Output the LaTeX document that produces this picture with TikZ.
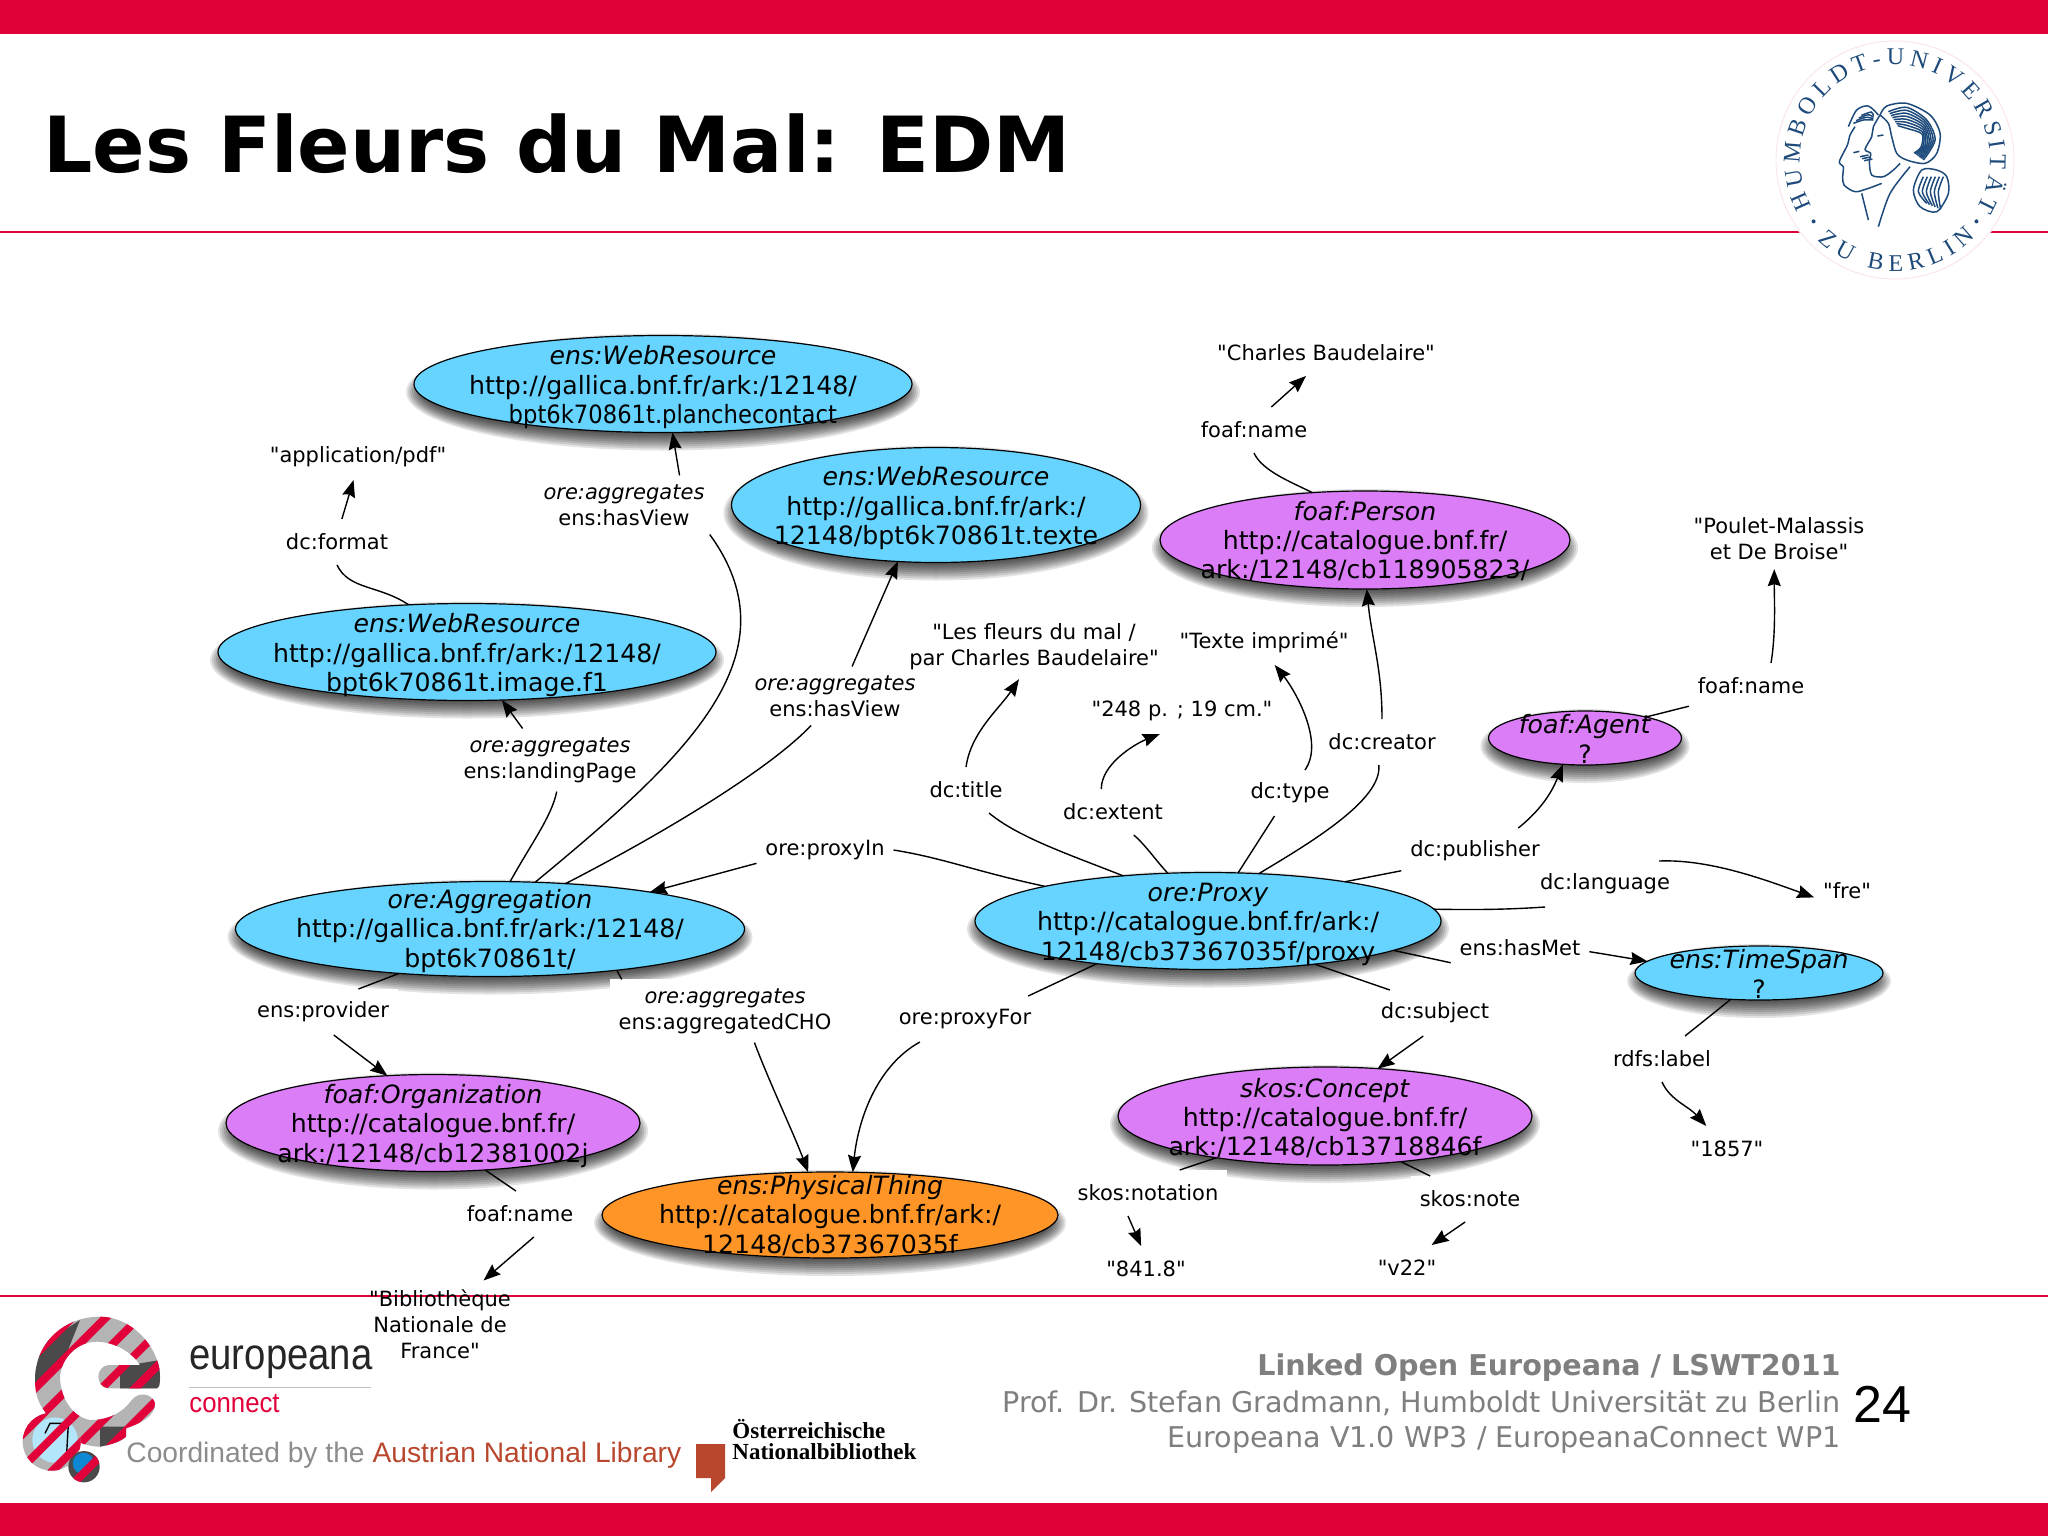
\documentclass[tikz,border=0pt]{standalone}
\usepackage{fontspec}
\usepackage{xcolor}
\usetikzlibrary{arrows.meta, shapes.geometric, decorations.text}
\setmainfont{DejaVu Sans}[Ligatures=TeXOff]
\newfontfamily\arialfont{Liberation Sans}
\newfontfamily\timesfont{Liberation Serif}
\definecolor{Crimson}  {HTML}{E2003B}
\definecolor{ResBlue}  {HTML}{66D4FF}
\definecolor{ResPurple}{HTML}{DA7DF6}
\definecolor{ResOrange}{HTML}{FF9526}
\definecolor{SealBlue} {HTML}{1D4A7A}
\definecolor{FootGrey} {HTML}{7F7F7F}
\definecolor{LogoGrey} {HTML}{B4B4B4}
\definecolor{LogoDark} {HTML}{4A4A4A}
\definecolor{LibRed}   {HTML}{B8472E}
\tikzset{
  resource/.style={ellipse, draw=black, line width=.6pt, inner sep=0pt, outer sep=0pt},
  restext/.style={inner sep=0pt, align=center, font=\fontsize{12.6}{14.7}\selectfont},
  lit/.style={inner sep=4.5pt, outer sep=0pt, minimum height=23pt, align=center,
              font=\fontsize{10.5}{13}\selectfont},
  prop/.style={lit, fill=white},
  link/.style={line width=.7pt},
  arrowlink/.style={link, -{Stealth[length=8.5pt,width=6.5pt,inset=1pt]}},
}
% shadow rings, then the ellipse, then its text on top (#7 lowers the text)
\newcommand{\resnode}[8]{%
  \foreach \s in {0,...,8}
    \fill[black,opacity=.11] (#2,#3+8) ellipse [x radius=#4/2+8-2*\s, y radius=#5/2+10-2*\s];
  \node[resource, fill=#6, minimum width=#4*.5pt, minimum height=#5*.5pt] (#1) at (#2,#3) {};
  \node[restext, yshift=-#7*.5pt] (#1-text) at (#1.center) {#8};
}
\newcommand{\logostripes}{%
  \foreach \c in {270,370,...,870}
    \draw[Crimson,line width=4pt] (\c,0) -- (0,\c);
}
\begin{document}
\begin{tikzpicture}[x=.5pt,y=-.5pt]
  \useasboundingbox (0,0) rectangle (2048,1536);
  \fill[white] (0,0) rectangle (2048,1536);
  % Slide frame
  \fill[Crimson] (0,0) rectangle (2048,34);
  \fill[Crimson] (0,1503) rectangle (2048,1536);
  \fill[Crimson] (0,231) rectangle (2048,233);
  \fill[Crimson] (0,1295) rectangle (2048,1297);
  \node[anchor=base west, inner sep=0pt, font=\fontsize{38.7}{44}\selectfont\bfseries] (title) at (43,172) {Les Fleurs du Mal: EDM};

  % Resources
  \resnode{webtop}{663}{384}{498}{97}{ResBlue}{3.4}{\textit{ens:WebResource}\\http://gallica.bnf.fr/ark:/12148/\\\hspace*{9.8pt}\scalebox{.9}[1]{bpt6k70861t.planchecontact}}
  \resnode{webtext}{936}{505}{409}{115}{ResBlue}{3.4}{\textit{ens:WebResource}\\http://gallica.bnf.fr/ark:/\\12148/bpt6k70861t.texte}
  \resnode{webimage}{467}{652}{498}{97}{ResBlue}{3.4}{\textit{ens:WebResource}\\http://gallica.bnf.fr/ark:/12148/\\bpt6k70861t.image.f1}
  \resnode{person}{1365}{540}{410}{98}{ResPurple}{1}{\textit{foaf:Person}\\http://catalogue.bnf.fr/\\ark:/12148/cb118905823/}
  \resnode{agent}{1585}{738}{193}{54}{ResPurple}{1}{\textit{foaf:Agent}\\?}
  \resnode{aggregation}{490}{929}{509}{95}{ResBlue}{2}{\textit{ore:Aggregation}\\http://gallica.bnf.fr/ark:/12148/\\bpt6k70861t/}
  \resnode{proxy}{1208}{921}{466}{97}{ResBlue}{3.4}{\textit{ore:Proxy}\\http://catalogue.bnf.fr/ark:/\\12148/cb37367035f/proxy}
  \resnode{timespan}{1759}{973}{248}{54}{ResBlue}{1}{\textit{ens:TimeSpan}\\?}
  \resnode{organization}{433}{1123}{414}{97}{ResPurple}{3}{\textit{foaf:Organization}\\http://catalogue.bnf.fr/\\ark:/12148/cb12381002j}
  \resnode{concept}{1325}{1116}{414}{98}{ResPurple}{2}{\textit{skos:Concept}\\http://catalogue.bnf.fr/\\ark:/12148/cb13718846f}
  \resnode{thing}{830}{1215}{456}{86}{ResOrange}{.5}{\textit{ens:PhysicalThing}\\http://catalogue.bnf.fr/ark:/\\12148/cb37367035f}

  % Property labels
  \node[prop] (name1) at (1254,430) {foaf:name};
  \node[prop] (format) at (337,542) {dc:format};
  \node[prop] (view1) at (624,505) {\textit{ore:aggregates}\\ens:hasView};
  \node[prop] (landing) at (550,760) {\textit{ore:aggregates}\\ens:landingPage};
  \node[prop] (view2) at (835,696) {\textit{ore:aggregates}\\ens:hasView};
  \node[prop] (cho) at (725,1011) {\textit{ore:aggregates}\\ens:aggregatedCHO};
  \node[prop] (dctitle) at (966,790) {dc:title};
  \node[prop] (extent) at (1113,812) {dc:extent};
  \node[prop] (dctype) at (1290,793) {dc:type};
  \node[prop] (creator) at (1382,742) {dc:creator};
  \node[prop] (publisher) at (1475,851) {dc:publisher};
  \node[prop] (name2) at (1751,686) {foaf:name};
  \node[prop] (language) at (1605,884) {dc:language};
  \node[prop] (hasmet) at (1520,948) {ens:hasMet};
  \node[prop] (proxyin) at (825,850) {ore:proxyIn};
  \node[prop] (proxyfor) at (965,1019) {ore:proxyFor};
  \node[prop] (provider) at (323,1012) {ens:provider};
  \node[prop] (subject) at (1435,1013) {dc:subject};
  \node[prop] (rdfs) at (1662,1059) {rdfs:label};
  \node[prop] (notation) at (1148,1193) {skos:notation};
  \node[prop] (note) at (1470,1199) {skos:note};
  \node[prop] (name3) at (520,1214) {foaf:name};

  % Literal values
  \node[lit] (charles) at (1326,353) {"Charles Baudelaire"};
  \node[lit] (pdf) at (358,457) {"application/pdf"};
  \node[lit] (fleurs) at (1034,647) {"Les fleurs du mal /\\par Charles Baudelaire"};
  \node[lit] (texte) at (1264,642) {"Texte imprimé"};
  \node[lit] (pages) at (1182,711) {"248 p. ; 19 cm."};
  \node[lit] (poulet) at (1779,539) {"Poulet-Malassis\\et De Broise"};
  \node[lit] (fre) at (1847,891) {"fre"};
  \node[lit] (year) at (1727,1149) {"1857"};
  \node[lit] (dewey) at (1146,1269) {"841.8"};
  \node[lit] (vol) at (1407,1268) {"v22"};
  \node[lit] (bnf) at (440,1324) {"Bibliothèque\\Nationale de\\France"};

  % Person, web resources
  \draw[link] (person.138) .. controls +(-20,-10) and +(8,18) .. (name1.south);
  \draw[arrowlink] (name1.53) -- (charles.229);
  \draw[link] (webimage.141) .. controls +(-30,-20) and +(12,25) .. (format.south);
  \draw[arrowlink] (format.78) -- (pdf.259);
  \draw[arrowlink] (view1.28) -- (webtop.281);
  \draw[link] (aggregation.46) .. controls +(150,-124) and +(88,121) .. (view1.-19);
  \draw[link] (aggregation.31) .. controls +(78,-40) and +(-48,50) .. (view2.231);
  \draw[arrowlink] (view2.60) -- (webtext.236);
  \draw[link] (aggregation.67) .. controls +(21,-38) and +(-5,25) .. (landing.282);
  \draw[arrowlink] (landing.131) -- (webimage.306);
  % Proxy
  \draw[link] (proxy.168) .. controls +(-70,-15) and +(50,8) .. (proxyin.east);
  \draw[arrowlink] (proxyin.191) -- (aggregation.13);
  \draw[link] (proxy.152) .. controls +(-50,-20) and +(30,25) .. (dctitle.315);
  \draw[arrowlink] (dctitle.north) .. controls +(5,-35) and +(-20,30) .. (fleurs.245);
  \draw[link] (proxy.130) .. controls +(-10,-10) and +(12,10) .. (extent.312);
  \draw[arrowlink] (extent.117) .. controls +(0,-25) and +(-25,10) .. (pages.226);
  \draw[link] (proxy.58) -- (dctype.236);
  \draw[arrowlink] (dctype.57) .. controls +(20,-28) and +(20,25) .. (texte.295);
  \draw[link] (proxy.43) .. controls +(50,-30) and +(4,35) .. (creator.262);
  \draw[arrowlink] (creator.north) .. controls +(0,-50) and +(5,50) .. (person.272);
  \draw[link] (proxy.16) -- (publisher.195);
  \draw[arrowlink] (publisher.28) .. controls +(25,-20) and +(-10,25) .. (agent.230);
  \draw[link] (agent.19) -- (name2.198);
  \draw[arrowlink] (name2.49) .. controls +(5,-30) and +(0,30) .. (poulet.261);
  \draw[link] (proxy.3) .. controls +(50,1) and +(-30,2) .. (language.201);
  \draw[arrowlink] (language.23) .. controls +(50,-2) and +(-50,-18) .. (fre.191);
  \draw[link] (proxy.-9) -- (hasmet.192);
  \draw[arrowlink] (hasmet.357) -- (timespan.174);
  \draw[link] (timespan.223) -- (rdfs.45);
  \draw[arrowlink] (rdfs.south) .. controls +(8,18) and +(-18,-20) .. (year.132);
  \draw[link] (proxy.338) -- (subject.153);
  \draw[arrowlink] (subject.243) -- (concept.42);
  \draw[link] (proxy.201) -- (proxyfor.20);
  \draw[arrowlink] (proxyfor.207) .. controls +(-45,25) and +(5,-49) .. (thing.62);
  % Aggregation, concept, organization
  \draw[link] (aggregation.342) -- (cho.163);
  \draw[arrowlink] (cho.313) .. controls +(15,40) and +(-15,-40) .. (thing.117);
  \draw[link] (aggregation.206) -- (provider.33);
  \draw[arrowlink] (provider.295) -- (organization.134);
  \draw[link] (organization.318) -- (name3.100);
  \draw[arrowlink] (name3.301) -- (bnf.45);
  \draw[link] (concept.201) -- (notation.36);
  \draw[arrowlink] (notation.229) -- (dewey.102);
  \draw[link] (concept.329) -- (note.150);
  \draw[arrowlink] (note.258) -- (vol.43);

  % Footer text
  \node[anchor=east, inner sep=0pt, text=FootGrey, font=\fontsize{14.3}{16}\selectfont\bfseries] (foot1) at (1841,1368) {Linked Open Europeana / LSWT2011};
  \node[anchor=east, inner sep=0pt, text=FootGrey, font=\fontsize{14.3}{16}\selectfont] (foot2) at (1841,1403) {Prof. Dr. Stefan Gradmann, Humboldt Universität zu Berlin};
  \node[anchor=east, inner sep=0pt, text=FootGrey, font=\fontsize{14.3}{16}\selectfont] (foot3) at (1841,1440) {Europeana V1.0 WP3 / EuropeanaConnect WP1};
  \node[inner sep=0pt, font=\arialfont\fontsize{26}{28}\selectfont] (pagenum) at (1882,1404) {24};

  % Europeana and library marks
  \node[anchor=base west, inner sep=0pt, text=black!85, font=\arialfont\fontsize{22}{24}\selectfont] (euro) at (189,1369) {\scalebox{.87}[1]{europeana}};
  \fill[black!25] (189,1386.5) rectangle (371,1388);
  \node[anchor=base west, inner sep=0pt, text=Crimson, font=\arialfont\fontsize{14}{16}\selectfont] (euroconn) at (189,1412) {\scalebox{.92}[1]{connect}};
  \node[anchor=base west, inner sep=0pt, font=\arialfont\fontsize{14.1}{16}\selectfont] (coord) at (126,1462) {\textcolor{black!45}{Coordinated by the} \textcolor{LibRed}{Austrian National Library}};
  \node[anchor=west, inner sep=0pt, align=left, font=\timesfont\bfseries\fontsize{11.5}{10.5}\selectfont] (onb) at (732,1440) {Österreichische\\Nationalbibliothek};
  \fill[LibRed] (696,1444) -- (725,1444) -- (725,1478) -- (711,1492) -- (711,1478) -- (696,1478) -- cycle;

  % Europeana e, crops of the logo in 3x pixels
  \begin{scope}[shift={(0,1300)},x=.1667pt,y=-.1667pt]
    \begin{scope}
      \clip (480,240) .. controls (485,150) and (400,50) .. (300,50)
        .. controls (190,50) and (105,130) .. (105,240)
        .. controls (105,280) and (115,310) .. (135,335)
        .. controls (170,400) and (240,440) .. (300,440)
        .. controls (330,435) and (360,425) .. (378,410) -- (378,385)
        .. controls (420,370) and (465,350) .. (465,310)
        .. controls (460,285) and (420,270) .. (395,300)
        .. controls (370,335) and (330,360) .. (270,360)
        .. controls (215,350) and (180,290) .. (180,230)
        .. controls (185,170) and (235,125) .. (290,125)
        .. controls (340,125) and (395,155) .. (420,195)
        -- (325,195) .. controls (285,200) and (285,260) .. (325,265)
        -- (470,265) .. controls (478,262) and (480,250) .. (480,240) -- cycle;
      \fill[LogoGrey] (0,0) rectangle (600,600);
      \fill[LogoDark] (100,150) -- (240,60) -- (200,160) -- (100,260) -- cycle;
      \fill[LogoDark] (300,380) -- (380,380) -- (380,420) -- (300,440) -- cycle;
      \fill[LogoDark] (360,200) -- (480,180) -- (480,265) -- (360,265) -- cycle;
      \logostripes
    \end{scope}
    \begin{scope}
      \clip (155,425) circle (87);
      \fill[LogoGrey] (50,320) rectangle (260,530);
      \fill[cyan!30] (165,420) circle (68);
      \draw[black,line width=.7pt] (135,400) -- (150,370) -- (205,370) -- (200,460);
      \logostripes
    \end{scope}
    \begin{scope}
      \clip (252,500) circle (47);
      \fill[LogoDark] (200,450) rectangle (300,550);
      \fill[cyan!70!blue] (250,490) circle (32);
      \logostripes
    \end{scope}
  \end{scope}

  % Seal, arcs around its centre
  \begin{scope}[shift={(1895,160)},x=.5pt,y=.5pt]
    \fill[white] (0,0) circle (120);
    \draw[Crimson!12,line width=.4pt] (0,0) circle (119);
    \path[postaction={decorate},decoration={text along path,text align={fit to path},
      text={|\timesfont\fontsize{12}{12}\selectfont\color{SealBlue}|HUMBOLDT-UNIVERSITÄT}}]
      (209:95) arc (209:-31:95);
    \path[postaction={decorate},decoration={text along path,text align={fit to path},
      text={|\timesfont\fontsize{12}{12}\selectfont\color{SealBlue}|ZU BERLIN}}]
      (226:111) arc (226:316:111);
    \fill[SealBlue] (217:102) circle (2);
    \fill[SealBlue] (-37:102) circle (2);
  \end{scope}
  % Seal heads, in 3x pixels of the crop
  \begin{scope}[shift={(1740,20)},x=.1667pt,y=-.1667pt,SealBlue,line width=.75pt]
    \draw plot[smooth] coordinates {(345,320) (330,345) (322,375) (298,425) (310,440) (308,470) (312,495) (345,515) (385,505) (425,490)};
    \draw plot[smooth] coordinates {(365,520) (375,560) (385,600)};
    \draw plot[smooth] coordinates {(420,285) (400,320) (395,350) (375,388) (392,400) (388,425) (395,465) (430,470) (460,450) (480,430)};
    \draw plot[smooth] coordinates {(510,440) (450,520) (415,620)};
    \draw plot[smooth] coordinates {(325,320) (350,270) (385,258) (415,285)};
    \draw plot[smooth] coordinates {(420,285) (440,258) (500,250) (570,285) (600,340) (590,400) (555,430) (500,420) (470,400) (455,350) (445,310) (420,285)};
    \foreach \d in {0,1,...,7}
      \draw plot[smooth] coordinates {(445+4*\d,275+6*\d) (500,262+9*\d) (560-2*\d,300+6*\d) (585-6*\d,360+3*\d) (550-4*\d,420-3*\d)};
    \foreach \d in {0,8,16,24}
      \draw plot[smooth] coordinates {(340+\d,310-\d) (370+\d,300-\d) (400,300-.5*\d)};
    \draw plot[smooth cycle] coordinates {(545,450) (520,510) (540,560) (590,575) (625,520) (620,470) (590,450)};
    \foreach \d in {0,12,...,60}
      \draw plot[smooth] coordinates {(550+\d,470) (535+\d,515) (560+.7*\d,550+.3*\d)};
    \foreach \d in {0,6,12}
      \draw (360+\d,410+\d) -- (385+\d,405+\d);
    \draw (340,398) -- (358,394);
    \draw (412,348) -- (430,345);
  \end{scope}
\end{tikzpicture}
\end{document}
